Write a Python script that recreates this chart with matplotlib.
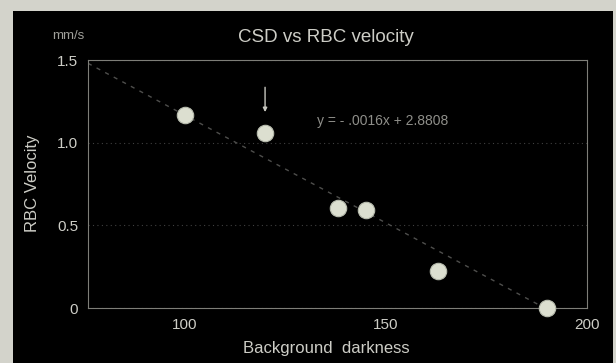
import numpy as np
import matplotlib
matplotlib.use("Agg")
import matplotlib.pyplot as plt
from matplotlib.patches import Rectangle

# Data
darkness = [100, 120, 138, 145, 163, 190]
velocity = [1.17, 1.06, 0.605, 0.593, 0.224, 0.0]
trend_x = [76, 189.5]
trend_y = [1.48, 0.0]
x_ticks = [100, 150, 200]
y_ticks = [0, 0.5, 1.0, 1.5]
y_tick_labels = ["0", "0.5", "1.0", "1.5"]
title = "CSD vs RBC velocity"
equation = "y = - .0016x + 2.8808"

plt.rcParams['font.family'] = ['Liberation Sans', 'DejaVu Sans']
txt = '#cdcdc6'

fig = plt.figure(figsize=(6.16, 3.63), dpi=100)
fig.patch.set_facecolor('#d3d3cb')
fig.patches.append(Rectangle((13/616, 0), 600/616, 1 - 11/363, transform=fig.transFigure,
                             facecolor='black', edgecolor='none', zorder=-5))

ax = fig.add_axes([88/616, 1 - 308/363, (587 - 88)/616, (308 - 60)/363])
ax.set_zorder(1)
ax.set_facecolor('black')
ax.set_xlim(76, 200)
ax.set_ylim(0, 1.5)

for s in ax.spines.values():
    s.set_color('#7e7e78')
    s.set_linewidth(0.8)

ax.set_xticks(x_ticks)
ax.set_yticks(y_ticks)
ax.set_yticklabels(y_tick_labels)
ax.tick_params(length=0, labelsize=11, colors=txt, pad=7)
ax.yaxis.grid(True, color='#404040', linestyle=(0, (1, 3)), linewidth=0.8)
ax.set_axisbelow(True)

# trend line
ax.plot(trend_x, trend_y, color='#4e4e4c', linestyle=(0, (3, 4)), linewidth=1.0, zorder=2)

ax.scatter(darkness, velocity, s=140, color='#dcdfd0', edgecolors='#b8bcae',
           linewidths=0.8, zorder=3, clip_on=False)

# arrow pointing to second point
ax.annotate('', xy=(darkness[1], 1.185), xytext=(darkness[1], 1.335),
            arrowprops=dict(arrowstyle='-|>', color='#c8c8c0', lw=1.0,
                            mutation_scale=6, shrinkA=0, shrinkB=0))

fig.text(317/616, 1 - 121/363, equation, fontsize=10, color='#8f8f8a',
         va='center', ha='left')
fig.text(326/616, 1 - 37/363, title, fontsize=13.5, color=txt, ha='center', va='center')
fig.text(52/616, 1 - 36/363, "mm/s", fontsize=9.5, color='#a0a09a', ha='left', va='center')
fig.text(326/616, 1 - 348/363, "Background  darkness", fontsize=12, color=txt,
         ha='center', va='center')
fig.text(33/616, 1 - 183/363, "RBC Velocity", fontsize=12, color=txt,
         ha='center', va='center', rotation=90)

fig.savefig("out.png", dpi=100, facecolor=fig.get_facecolor())
